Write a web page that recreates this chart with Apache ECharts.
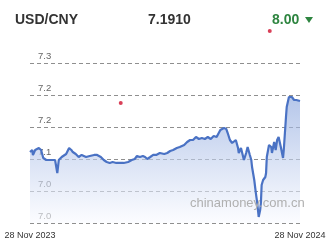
<!DOCTYPE html>
<html>
<head>
<meta charset="utf-8">
<script src="https://cdn.jsdelivr.net/npm/echarts@6/dist/echarts.min.js"></script>
<style>html,body{margin:0;padding:0;background:#fff}#c{width:329px;height:249px}</style>
</head>
<body>
<div id="c"></div>
<script>
var pairName = 'USD/CNY';
var lastRate = '7.1910';
var changeText = '8.00';
var startDate = '2023-11-28';
var endDate = '2024-11-28';
var yTicks = [7.00, 7.05, 7.10, 7.15, 7.20, 7.25];

var dates = [
 '2023-11-28','2023-12-01','2023-12-02','2023-12-05','2023-12-07','2023-12-10','2023-12-13','2023-12-16','2023-12-20','2023-12-25','2023-12-29',
 '2024-01-01','2024-01-04','2024-01-06','2024-01-10','2024-01-16','2024-01-20','2024-01-23','2024-01-25','2024-01-29',
 '2024-02-02','2024-02-06','2024-02-12','2024-02-17','2024-02-23','2024-02-27',
 '2024-03-03','2024-03-07','2024-03-11','2024-03-15','2024-03-19','2024-03-24','2024-03-29',
 '2024-04-03','2024-04-09','2024-04-14','2024-04-18','2024-04-21','2024-04-25','2024-04-29',
 '2024-05-02','2024-05-05','2024-05-09','2024-05-13','2024-05-17','2024-05-22','2024-05-28',
 '2024-06-01','2024-06-05','2024-06-09','2024-06-14','2024-06-18','2024-06-24','2024-06-28',
 '2024-07-02','2024-07-06','2024-07-10','2024-07-14','2024-07-18','2024-07-22','2024-07-26','2024-07-30',
 '2024-08-03','2024-08-07','2024-08-12','2024-08-14','2024-08-17','2024-08-20','2024-08-22','2024-08-25','2024-08-28','2024-08-30',
 '2024-09-02','2024-09-05','2024-09-06','2024-09-09','2024-09-10','2024-09-13','2024-09-16','2024-09-18','2024-09-21','2024-09-23','2024-09-24','2024-09-27','2024-09-29',
 '2024-10-01','2024-10-02','2024-10-03','2024-10-05','2024-10-06','2024-10-07','2024-10-09','2024-10-12','2024-10-13','2024-10-14','2024-10-17','2024-10-20','2024-10-21','2024-10-24','2024-10-26','2024-10-28','2024-10-30',
 '2024-11-02','2024-11-05','2024-11-06','2024-11-09','2024-11-10','2024-11-13','2024-11-14','2024-11-17','2024-11-20','2024-11-23','2024-11-25','2024-11-28'
];
var rates = [
 7.1109,7.1141,7.1063,7.1141,7.1156,7.1172,7.1141,7.1016,7.0984,7.0984,7.0984,
 7.0984,7.0781,7.0984,7.1031,7.1078,7.1172,7.1141,7.1109,7.1078,
 7.1031,7.1063,7.1031,7.1047,7.1063,7.1063,
 7.1031,7.0984,7.0953,7.0938,7.0953,7.0938,7.0938,
 7.0938,7.0953,7.0984,7.1000,7.1047,7.1031,7.1047,
 7.1031,7.1000,7.1031,7.1063,7.1063,7.1094,7.1078,
 7.1094,7.1125,7.1141,7.1172,7.1188,7.1219,7.1266,
 7.1297,7.1297,7.1344,7.1313,7.1328,7.1313,7.1344,7.1313,
 7.1359,7.1344,7.1453,7.1469,7.1484,7.1469,7.1406,7.1297,7.1250,7.1281,
 7.1297,7.1172,7.1094,7.1172,7.1141,7.0984,7.1094,7.1188,7.1063,7.0984,7.0875,7.0672,7.0484,
 7.0313,7.0203,7.0094,7.0203,7.0313,7.0594,7.0672,7.0719,7.0781,7.1031,7.1219,7.1188,7.1094,7.1266,7.1141,7.1297,7.1344,
 7.1188,7.1016,7.1141,7.1656,7.1813,7.1969,7.1984,7.1969,7.1922,7.1922,7.1906,7.1906
];
var markerDates = ['2024-03-30','2024-10-18'];
var markerRates = [7.1875, 7.30];

var months = ['Jan','Feb','Mar','Apr','May','Jun','Jul','Aug','Sep','Oct','Nov','Dec'];
function toTs(s){ return Date.UTC(+s.slice(0,4), +s.slice(5,7)-1, +s.slice(8,10)); }
function fmtDate(v){
  var d = new Date(v);
  var dd = d.getUTCDate();
  return (dd<10?'0'+dd:dd) + ' ' + months[d.getUTCMonth()] + ' ' + d.getUTCFullYear();
}

var chart = echarts.init(document.getElementById('c'), null, {renderer:'canvas'});
var lineData = dates.map(function(d,i){return [toTs(d), rates[i]];});
var markData = markerDates.map(function(d,i){return [toTs(d), markerRates[i]];});
var xMin = toTs(startDate), xMax = toTs(endDate);

chart.setOption({
  backgroundColor:'#ffffff',
  animation:false,
  grid:{left:30, right:29, top:63, bottom:26, containLabel:false},
  xAxis:{
    type:'value',
    min:xMin, max:xMax, interval:(xMax-xMin),
    axisLine:{show:false}, axisTick:{show:false},
    splitLine:{show:false},
    axisLabel:{
      formatter:function(v){return fmtDate(v);},
      fontFamily:'Liberation Sans, Arial, sans-serif', fontSize:9, color:'#333', margin:8,
      showMinLabel:true, showMaxLabel:true, hideOverlap:false
    }
  },
  yAxis:{
    type:'value', min:yTicks[0], max:yTicks[yTicks.length-1], interval:0.05,
    axisLine:{show:false}, axisTick:{show:false},
    splitLine:{show:true, lineStyle:{color:'#8f8f8f', type:[4,3], width:1}},
    axisLabel:{
      inside:true, margin:8, verticalAlign:'bottom', padding:[0,0,2,0],
      fontFamily:'Liberation Sans, Arial, sans-serif', fontSize:9.5, color:'#666',
      formatter:function(v){return v.toFixed(1);}
    }
  },
  graphic:[
    {type:'text', left:15, top:13, z:100, style:{text:pairName, font:'bold 14px Liberation Sans, Arial, sans-serif', fill:'#333'}},
    {type:'text', left:148, top:13, z:100, style:{text:lastRate, font:'bold 14px Liberation Sans, Arial, sans-serif', fill:'#333'}},
    {type:'text', left:272, top:13, z:100, style:{text:changeText, font:'bold 14px Liberation Sans, Arial, sans-serif', fill:'#2e8540'}},
    {type:'polygon', z:100, shape:{points:[[305,17],[313,17],[309,23]]}, style:{fill:'#2e8540'}},
    {type:'text', left:190, top:197, z:100, style:{text:'chinamoney.com.cn', font:'13px Liberation Sans, Arial, sans-serif', fill:'#b0b0b0'}}
  ],
  series:[
    {
      type:'line', data:lineData, showSymbol:false, symbol:'none',
      lineStyle:{color:'#4a72c4', width:2.2},
      areaStyle:{color:new echarts.graphic.LinearGradient(0,0,0,1,[
        {offset:0, color:'rgba(135,163,220,0.88)'},
        {offset:1, color:'rgba(250,251,255,0.85)'}
      ])},
      z:2
    },
    {
      type:'scatter', data:markData, symbolSize:4, clip:false,
      itemStyle:{color:'#d0102e'}, z:3
    }
  ]
});
</script>
</body>
</html>
